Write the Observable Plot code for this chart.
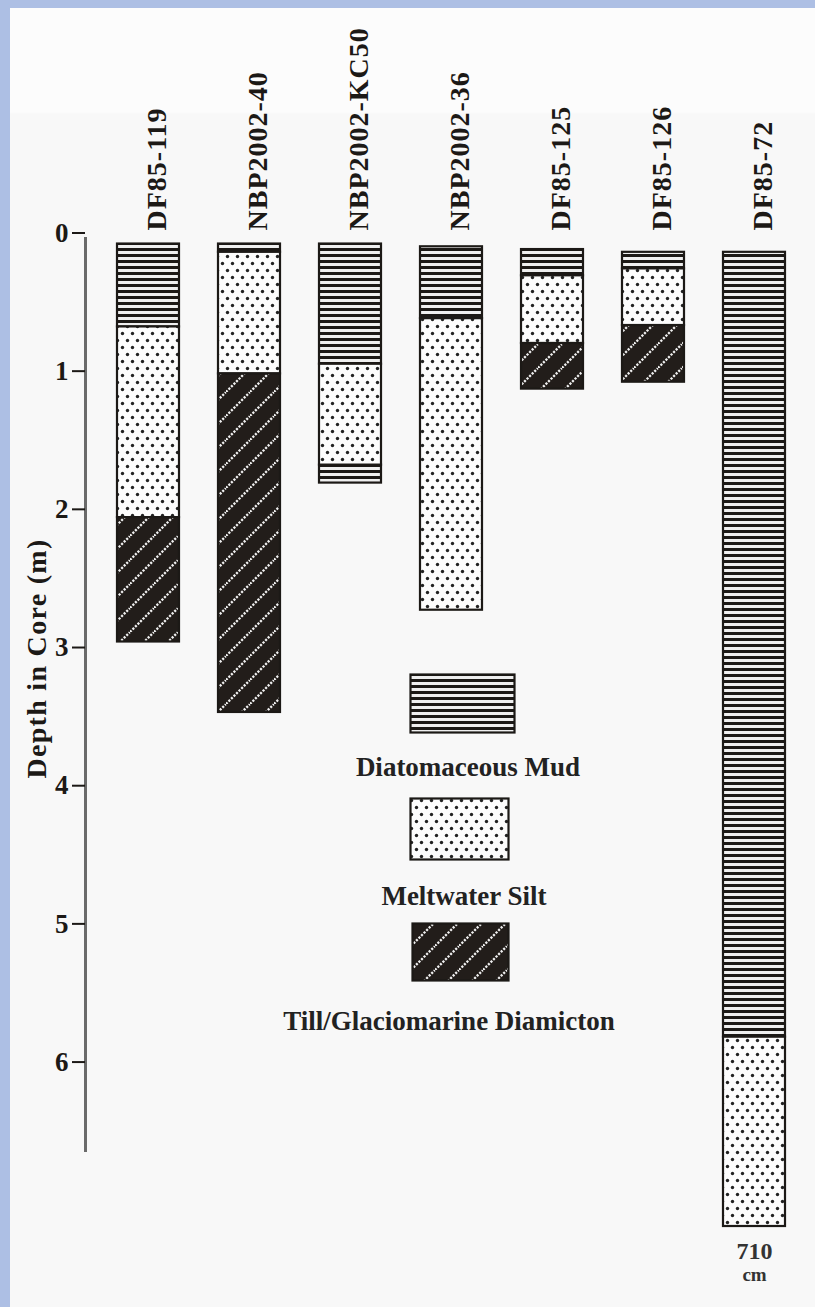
<!DOCTYPE html>
<html>
<head>
<meta charset="utf-8">
<script src="https://cdn.jsdelivr.net/npm/d3@7"></script>
<script src="https://cdn.jsdelivr.net/npm/@observablehq/plot@0.6"></script>
<style>
  html, body { margin: 0; padding: 0; }
  body { width: 815px; height: 1307px; background: #adbfe4; overflow: hidden; }
  #page { position: absolute; left: 10px; top: 8px; width: 805px; height: 1299px;
          background: linear-gradient(#fcfcfc 0px, #fcfcfc 104px, #f8f8f8 106px, #f8f8f8 100%); }
  #chart { position: absolute; left: 0; top: 0; }
  .legend-swatch { position: absolute; }
  .legend-label { position: absolute; transform: translateX(-50%); white-space: nowrap;
                  font-family: "Liberation Serif", serif; font-weight: bold; font-size: 27px; color: #222; line-height: 1; }
</style>
</head>
<body>
<div id="page"><div id="chart"></div></div>
<script>
// ---- data ----
const cores = ["DF85-119", "NBP2002-40", "NBP2002-KC50", "NBP2002-36", "DF85-125", "DF85-126", "DF85-72"];
const layerCore = ["DF85-119","DF85-119","DF85-119",
                   "NBP2002-40","NBP2002-40","NBP2002-40",
                   "NBP2002-KC50","NBP2002-KC50","NBP2002-KC50",
                   "NBP2002-36","NBP2002-36",
                   "DF85-125","DF85-125","DF85-125",
                   "DF85-126","DF85-126","DF85-126",
                   "DF85-72","DF85-72"];
const layerType = ["mud","silt","till",
                   "mud","silt","till",
                   "mud","silt","mud",
                   "mud","silt",
                   "mud","silt","till",
                   "mud","silt","till",
                   "mud","silt"];
const layerTop    = [0.08, 0.68, 2.06,  0.08, 0.14, 1.02,  0.08, 0.95, 1.68,  0.10, 0.62,  0.12, 0.31, 0.80,  0.14, 0.26, 0.67,  0.14, 5.82];
const layerBottom = [0.68, 2.06, 2.96,  0.14, 1.02, 3.47,  0.95, 1.68, 1.81,  0.62, 2.73,  0.31, 0.80, 1.13,  0.26, 0.67, 1.08,  5.82, 7.19];
const yTicks = [0, 1, 2, 3, 4, 5, 6];
const axisLabel = "Depth in Core (m)";
const legendTypes = ["mud", "silt", "till"];
const legendLabels = ["Diatomaceous Mud", "Meltwater Silt", "Till/Glaciomarine Diamicton"];
const bottomNote = ["710", "cm"];
const bottomNoteCore = "DF85-72";

// ---- table built from arrays ----
const layers = layerCore.map((c, i) => ({core: c, type: layerType[i], top: layerTop[i], bottom: layerBottom[i]}));
const deepest = layers.filter(d => d.core === bottomNoteCore).reduce((a, b) => (b.bottom > a.bottom ? b : a));

const ink = "#1c1916";
const font = "'Liberation Serif', 'Times New Roman', serif";

function layerMark(type) {
  return Plot.barY(layers, {
    filter: d => d.type === type,
    x: "core", y1: "top", y2: "bottom",
    fill: `url(#pat-${type})`, stroke: ink, strokeWidth: 2.2
  });
}

const chart = Plot.plot({
  width: 805, height: 1299,
  marginLeft: 75, marginTop: 230, marginBottom: 157, marginRight: 20,
  style: {background: "transparent", fontFamily: font, color: ink},
  x: {domain: cores, range: [104.7, 776.8], paddingInner: 0.39, paddingOuter: 0, axis: null},
  y: {domain: [0.04, 6.64], reverse: true, axis: null},
  marks: [
    Plot.frame({anchor: "left", stroke: "#6a6a6a", strokeWidth: 3}),
    Plot.axisY({ticks: yTicks, tickSize: 13, tickPadding: 4, tickFormat: d => String(d),
                fontSize: 27, fontWeight: "bold", label: null, stroke: ink, strokeWidth: 2}),
    Plot.text([axisLabel], {frameAnchor: "left", textAnchor: "middle", rotate: -90, dx: -48, dy: -36,
                            fontSize: 28, fontWeight: "bold", fill: ink}),
    Plot.text(cores, {x: d => d, frameAnchor: "top", rotate: -90, textAnchor: "start",
                      dy: -8, dx: -2, fontSize: 28, fontWeight: "bold", fill: ink}),
    ...legendTypes.map(layerMark),
    Plot.text([deepest], {x: "core", y: "bottom", text: () => bottomNote[0], lineAnchor: "top",
                          dy: 15, fontSize: 24, fontWeight: "bold", fill: "#333"}),
    Plot.text([deepest], {x: "core", y: "bottom", text: () => bottomNote[1], lineAnchor: "top",
                          dy: 41, fontSize: 19, fontWeight: "bold", fill: "#333"})
  ]
});

// slightly stretched lettering, as in the original figure
d3.select(chart).selectAll("text")
  .filter(function() { return cores.includes(this.textContent); })
  .attr("letter-spacing", 1);
d3.select(chart).selectAll("text")
  .filter(function() { return this.textContent === axisLabel; })
  .attr("letter-spacing", 1.3);

// ---- pattern definitions ----
function addDefs(svgSel) {
  const defs = svgSel.insert("defs", ":first-child");
  // Diatomaceous mud: horizontal stripes
  const mud = defs.append("pattern").attr("id", "pat-mud").attr("patternUnits", "userSpaceOnUse")
    .attr("width", 6).attr("height", 6);
  mud.append("rect").attr("width", 6).attr("height", 6).attr("fill", "#efefef");
  mud.append("rect").attr("width", 6).attr("height", 3).attr("fill", ink);
  // Meltwater silt: staggered dots
  const silt = defs.append("pattern").attr("id", "pat-silt").attr("patternUnits", "userSpaceOnUse")
    .attr("width", 10).attr("height", 14);
  silt.append("rect").attr("width", 10).attr("height", 14).attr("fill", "#fcfcfc");
  silt.append("circle").attr("cx", 2.5).attr("cy", 3.5).attr("r", 1.7).attr("fill", "#222");
  silt.append("circle").attr("cx", 7.5).attr("cy", 10.5).attr("r", 1.7).attr("fill", "#222");
  // Till: dark with dotted white diagonals
  const till = defs.append("pattern").attr("id", "pat-till").attr("patternUnits", "userSpaceOnUse")
    .attr("width", 24).attr("height", 24);
  till.append("rect").attr("width", 24).attr("height", 24).attr("fill", "#221d1a");
  [[-12, 12, 12, -12], [0, 24, 24, 0], [12, 36, 36, 12]].forEach(([x1, y1, x2, y2]) => {
    till.append("line").attr("x1", x1).attr("y1", y1).attr("x2", x2).attr("y2", y2)
      .attr("stroke", "#f0f0f0").attr("stroke-width", 2.3).attr("stroke-dasharray", "2.2 1.4");
  });
}
addDefs(d3.select(chart));
document.getElementById("chart").appendChild(chart);

// ---- legend (inside the plot area) ----
const page = document.getElementById("page");
const legendLayout = [
  {sw: [399, 665, 104, 58], label: [458, 746]},
  {sw: [399, 789, 98, 61], label: [454, 875]},
  {sw: [401, 914, 96, 57], label: [439, 1000]}
];
legendTypes.forEach((t, i) => {
  const L = legendLayout[i];
  const s = d3.select(page).append("svg").attr("class", "legend-swatch")
    .style("left", L.sw[0] + "px").style("top", L.sw[1] + "px")
    .attr("width", L.sw[2] + 4).attr("height", L.sw[3] + 4);
  s.append("rect").attr("x", 1.5).attr("y", 1.5).attr("width", L.sw[2]).attr("height", L.sw[3])
    .attr("fill", `url(#pat-${t})`).attr("stroke", ink).attr("stroke-width", 2.2);
  d3.select(page).append("div").attr("class", "legend-label")
    .style("left", L.label[0] + "px").style("top", L.label[1] + "px").text(legendLabels[i]);
});
</script>
</body>
</html>
